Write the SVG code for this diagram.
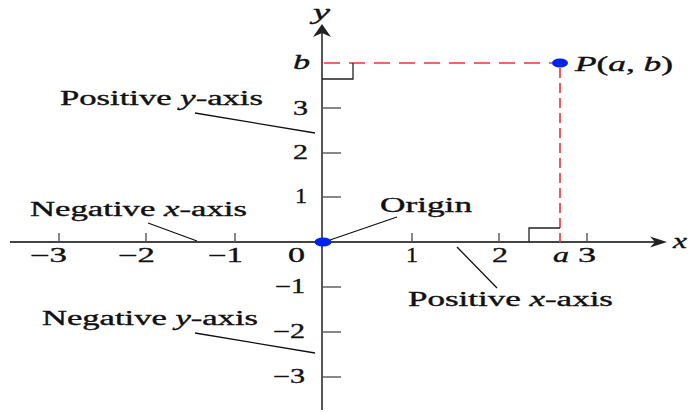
<svg xmlns="http://www.w3.org/2000/svg" width="689" height="412" viewBox="0 0 689 412">
<style>
.t{font-family:"Liberation Serif","Times New Roman",serif;font-size:20px;fill:#111;stroke:#111;stroke-width:0.35}
.i{font-style:italic}
.ax{stroke:#444;stroke-width:1.8;fill:none}
.tk{stroke:#555;stroke-width:1.4}
.ld{stroke:#111;stroke-width:1.3}
.rd{stroke:#ee3333;stroke-width:1.6;fill:none}
.ra{stroke:#222;stroke-width:1.3;fill:none}
.dot{fill:#0022ee}
</style>
<rect width="689" height="412" fill="#fff"/>
<g id="axes">
  <line class="ax" x1="10" y1="242" x2="658" y2="242"/>
  <polygon points="667,242 650,236.5 655,242 650,247.5" fill="#222"/>
  <line class="ax" x1="322" y1="410" x2="322" y2="33"/>
  <polygon points="322,24 313,37 322,33 331,37" fill="#222"/>
  <text class="t i" x="673" y="248" textLength="14" lengthAdjust="spacingAndGlyphs">x</text>
  <text class="t i" x="313" y="19" textLength="17" lengthAdjust="spacingAndGlyphs">y</text>
</g>
<g id="ticks">
  <line class="tk" x1="59" y1="233" x2="59" y2="242"/>
  <line class="tk" x1="146" y1="233" x2="146" y2="242"/>
  <line class="tk" x1="235" y1="233" x2="235" y2="242"/>
  <line class="tk" x1="412" y1="233" x2="412" y2="242"/>
  <line class="tk" x1="499" y1="233" x2="499" y2="242"/>
  <line class="tk" x1="587" y1="233" x2="587" y2="242"/>
  <line class="tk" x1="322" y1="108" x2="341" y2="108"/>
  <line class="tk" x1="322" y1="153" x2="341" y2="153"/>
  <line class="tk" x1="322" y1="197" x2="341" y2="197"/>
  <line class="tk" x1="322" y1="287" x2="341" y2="287"/>
  <line class="tk" x1="322" y1="332" x2="341" y2="332"/>
  <line class="tk" x1="322" y1="377" x2="341" y2="377"/>
</g>
<g id="tick-labels">
  <text class="t" x="30" y="262" textLength="37" lengthAdjust="spacingAndGlyphs">−3</text>
  <text class="t" x="118" y="262" textLength="37" lengthAdjust="spacingAndGlyphs">−2</text>
  <text class="t" x="208" y="262" textLength="35" lengthAdjust="spacingAndGlyphs">−1</text>
  <text class="t" x="288" y="262" textLength="17" lengthAdjust="spacingAndGlyphs">0</text>
  <text class="t" x="406" y="262" textLength="12" lengthAdjust="spacingAndGlyphs">1</text>
  <text class="t" x="492" y="262" textLength="16" lengthAdjust="spacingAndGlyphs">2</text>
  <text class="t i" x="553" y="262" textLength="16" lengthAdjust="spacingAndGlyphs">a</text>
  <text class="t" x="578" y="262" textLength="18" lengthAdjust="spacingAndGlyphs">3</text>
  <text class="t i" x="293" y="69" textLength="17" lengthAdjust="spacingAndGlyphs">b</text>
  <text class="t" x="293" y="115" textLength="15" lengthAdjust="spacingAndGlyphs">3</text>
  <text class="t" x="293" y="159" textLength="15" lengthAdjust="spacingAndGlyphs">2</text>
  <text class="t" x="295" y="203" textLength="12" lengthAdjust="spacingAndGlyphs">1</text>
  <text class="t" x="275" y="293" textLength="30" lengthAdjust="spacingAndGlyphs">−1</text>
  <text class="t" x="273" y="338" textLength="32" lengthAdjust="spacingAndGlyphs">−2</text>
  <text class="t" x="273" y="383" textLength="32" lengthAdjust="spacingAndGlyphs">−3</text>
</g>
<g id="point-P">
  <line class="rd" x1="324" y1="63" x2="552" y2="63" stroke-dasharray="16 9"/>
  <line class="rd" x1="560" y1="68" x2="560" y2="242" stroke-dasharray="10 5"/>
  <polyline class="ra" points="322,79 353,79 353,63"/>
  <polyline class="ra" points="529,242 529,228 560,228"/>
  <ellipse class="dot" cx="560" cy="63" rx="8" ry="4.5"/>
  <text class="t" x="575" y="71" textLength="98" lengthAdjust="spacingAndGlyphs"><tspan class="i">P</tspan>(<tspan class="i">a</tspan>, <tspan class="i">b</tspan>)</text>
</g>
<g id="origin">
  <ellipse class="dot" cx="323" cy="242" rx="8.5" ry="4.5"/>
  <text class="t" x="380" y="212" textLength="92" lengthAdjust="spacingAndGlyphs">Origin</text>
</g>
<g id="label-pos-y">
  <text class="t" x="60" y="105" textLength="203" lengthAdjust="spacingAndGlyphs">Positive <tspan class="i">y</tspan>-axis</text>
</g>
<g id="label-neg-x">
  <text class="t" x="30" y="216" textLength="217" lengthAdjust="spacingAndGlyphs">Negative <tspan class="i">x</tspan>-axis</text>
</g>
<g id="label-pos-x">
  <text class="t" x="408" y="306" textLength="205" lengthAdjust="spacingAndGlyphs">Positive <tspan class="i">x</tspan>-axis</text>
</g>
<g id="label-neg-y">
  <text class="t" x="42" y="325" textLength="216" lengthAdjust="spacingAndGlyphs">Negative <tspan class="i">y</tspan>-axis</text>
</g>
<g id="connectors">
  <line class="ld" x1="195" y1="113" x2="315" y2="133"/>
  <line class="ld" x1="148" y1="223" x2="197" y2="241"/>
  <line class="ld" x1="330" y1="240" x2="397" y2="217"/>
  <line class="ld" x1="457" y1="247" x2="497" y2="288"/>
  <line class="ld" x1="195" y1="333" x2="315" y2="353"/>
</g>
</svg>
